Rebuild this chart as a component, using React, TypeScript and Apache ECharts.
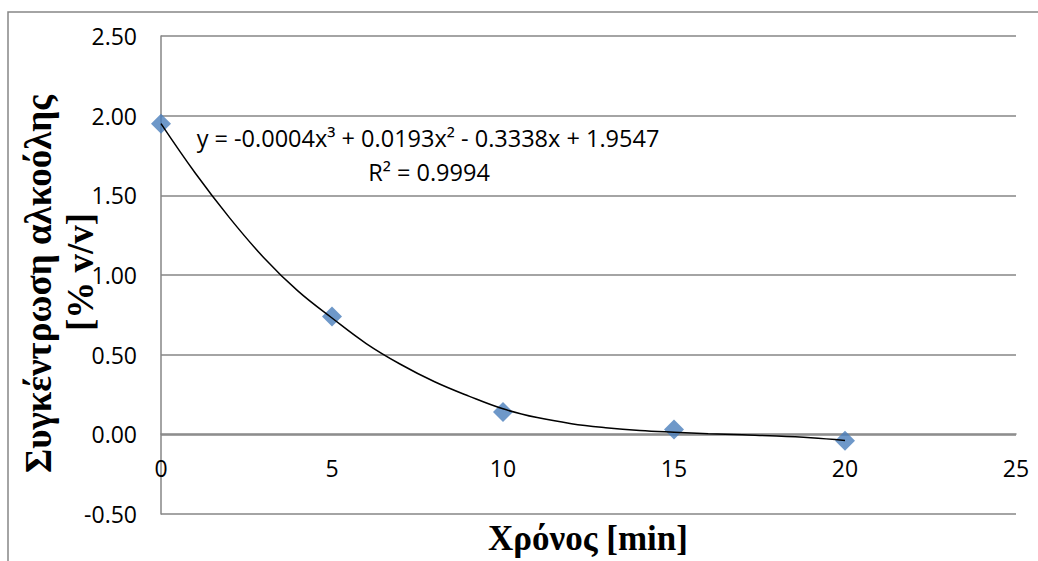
import React, { useEffect, useRef } from "react";
import * as echarts from "echarts";

// Measured points
const timeMin = [0, 5, 10, 15, 20];
const alcohol = [1.95, 0.74, 0.14, 0.03, -0.04];

// Trendline
const trendX = [0, 1, 2, 3, 4, 5, 6, 7, 8, 9, 10, 11, 12, 13, 14, 15, 16, 17, 18, 19, 20];
const trendY = [1.95, 1.64, 1.36, 1.11, 0.9, 0.73, 0.57, 0.44, 0.33, 0.24, 0.16, 0.105, 0.067, 0.042, 0.024, 0.013, 0.004, -0.003, -0.01, -0.021, -0.038];

const xTitle = "Χρόνος [min]";
const yTitle1 = "Συγκέντρωση αλκοόλης";
const yTitle2 = "[% v/v]";
const eqText = "y = -0.0004x³ + 0.0193x² - 0.3338x + 1.9547";
const r2Text = "R² = 0.9994";

export default function App() {
  const ref = useRef<HTMLDivElement>(null);
  useEffect(() => {
    if (!ref.current) return;
    const chart = echarts.init(ref.current, null, { renderer: "svg" });
    const gray = "#868686";
    const tickFont = { fontFamily: "Open Sans", fontSize: 23, color: "#000" };
    chart.setOption({
      animation: false,
      backgroundColor: "#fff",
      grid: { left: 161, top: 36, right: 22, bottom: 47, containLabel: false },
      xAxis: {
        type: "value",
        min: 0,
        max: 25,
        interval: 5,
        position: "bottom",
        offset: -80,
        axisLine: { show: true, onZero: false, lineStyle: { color: gray, width: 1.5 } },
        axisTick: { show: false },
        splitLine: { show: false },
        axisLabel: { ...tickFont, margin: 22 },
      },
      yAxis: {
        type: "value",
        min: -0.5,
        max: 2.5,
        interval: 0.5,
        axisLine: { show: true, onZero: false, lineStyle: { color: gray, width: 1.5 } },
        axisTick: { show: false },
        splitLine: { show: true, lineStyle: { color: gray, width: 1.5 } },
        axisLabel: { ...tickFont, margin: 24, formatter: (v: number) => v.toFixed(2) },
      },
      series: [
        {
          type: "scatter",
          data: timeMin.map((t, i) => [t, alcohol[i]]),
          symbol: "diamond",
          symbolSize: 20,
          itemStyle: { color: "#4a7ebb" },
          z: 2,
        },
        {
          type: "line",
          data: trendX.map((t, i) => [t, trendY[i]]),
          showSymbol: false,
          smooth: 0.4,
          lineStyle: { color: "#000", width: 1.5 },
          z: 3,
        },
      ],
      graphic: [
        {
          type: "rect",
          shape: { x: 8, y: 12, width: 1200, height: 700 },
          style: { fill: "none", stroke: gray, lineWidth: 1.5 },
          silent: true,
          z: 10,
        },
        {
          type: "text",
          x: 428,
          y: 138,
          style: { text: eqText, fontFamily: "Open Sans", fontSize: 23.5, fill: "#000", textAlign: "center", textVerticalAlign: "middle" },
          z: 10,
        },
        {
          type: "text",
          x: 429,
          y: 172,
          style: { text: r2Text, fontFamily: "Open Sans", fontSize: 23.5, fill: "#000", textAlign: "center", textVerticalAlign: "middle" },
          z: 10,
        },
        {
          type: "text",
          x: 588,
          y: 538,
          style: { text: xTitle, fontFamily: "Liberation Serif", fontWeight: "bold", fontSize: 35, fill: "#000", textAlign: "center", textVerticalAlign: "middle" },
          z: 10,
        },
        {
          type: "text",
          x: 38,
          y: 284,
          rotation: Math.PI / 2,
          style: { text: yTitle1, fontFamily: "Liberation Serif", fontWeight: "bold", fontSize: 37, fill: "#000", textAlign: "center", textVerticalAlign: "middle" },
          z: 10,
        },
        {
          type: "text",
          x: 80,
          y: 272,
          rotation: Math.PI / 2,
          style: { text: yTitle2, fontFamily: "Liberation Serif", fontWeight: "bold", fontSize: 37, fill: "#000", textAlign: "center", textVerticalAlign: "middle" },
          z: 10,
        },
      ],
    });
    return () => chart.dispose();
  }, []);
  return (
    <div
      ref={ref}
      style={{ position: "fixed", left: 0, top: 0, width: 1038, height: 561, background: "#fff" }}
    />
  );
}
